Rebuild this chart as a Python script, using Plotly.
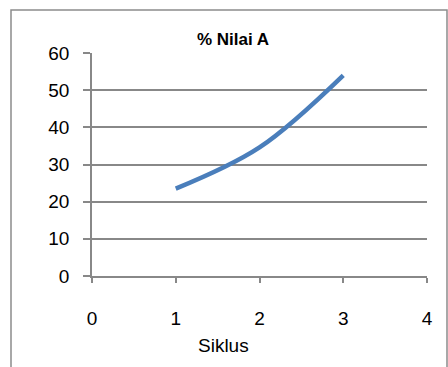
import plotly.graph_objects as go

siklus = [1, 2, 3]
nilai_a = [23.5, 34.6, 54.0]
x_ticks = [0, 1, 2, 3, 4]
y_ticks = [0, 10, 20, 30, 40, 50, 60]
title_text = "% Nilai A"
x_title = "Siklus"

W, H = 448, 367
L, R, T, B = 92, 21, 53, 91
pw, ph = W - L - R, H - T - B

def px_x(p):
    return (p - L) / pw

def px_y(p):
    return (H - B - p) / ph

FONT = "Liberation Sans, Arial, sans-serif"

fig = go.Figure()
fig.add_trace(go.Scatter(
    x=siklus, y=nilai_a, mode="lines",
    line=dict(color="#4a7ebb", width=4.5, shape="spline"),
    showlegend=False, hoverinfo="skip",
))

axis_font = dict(family=FONT, size=19, color="#000000")

fig.update_layout(
    width=W, height=H,
    margin=dict(l=L, r=R, t=T, b=B),
    paper_bgcolor="white", plot_bgcolor="white",
    xaxis=dict(
        range=[0, 4], tickvals=x_ticks, ticktext=[str(v) for v in x_ticks],
        showgrid=False, zeroline=False,
        showline=True, linecolor="#888888", linewidth=1.5,
        ticks="outside", ticklen=5, tickcolor="#888888", tickwidth=1.5,
        tickfont=axis_font, ticklabelstandoff=19,
    ),
    yaxis=dict(
        range=[0, 60], tickvals=y_ticks, ticktext=[str(v) for v in y_ticks],
        showgrid=True, gridcolor="#888888", gridwidth=1.5, zeroline=False,
        showline=True, linecolor="#888888", linewidth=1.5,
        ticks="outside", ticklen=7, tickcolor="#888888", tickwidth=1.5,
        tickfont=axis_font, ticklabelstandoff=10,
    ),
    shapes=[dict(
        type="rect", xref="paper", yref="paper",
        x0=px_x(11), x1=px_x(447), y0=px_y(372), y1=px_y(10),
        line=dict(color="#8c8c8c", width=1.5), fillcolor="rgba(0,0,0,0)",
        layer="below",
    )],
    annotations=[
        dict(text="<b>" + title_text + "</b>", xref="paper", yref="paper",
             x=px_x(233), y=px_y(39), showarrow=False,
             xanchor="center", yanchor="middle",
             font=dict(family=FONT, size=17, color="#000000")),
        dict(text=x_title, xref="paper", yref="paper",
             x=px_x(223), y=px_y(345), showarrow=False,
             xanchor="center", yanchor="middle",
             font=dict(family=FONT, size=19, color="#000000")),
    ],
)

fig.write_html("out.html", config={"displayModeBar": False},
               post_script="document.body.style.margin='0';")
